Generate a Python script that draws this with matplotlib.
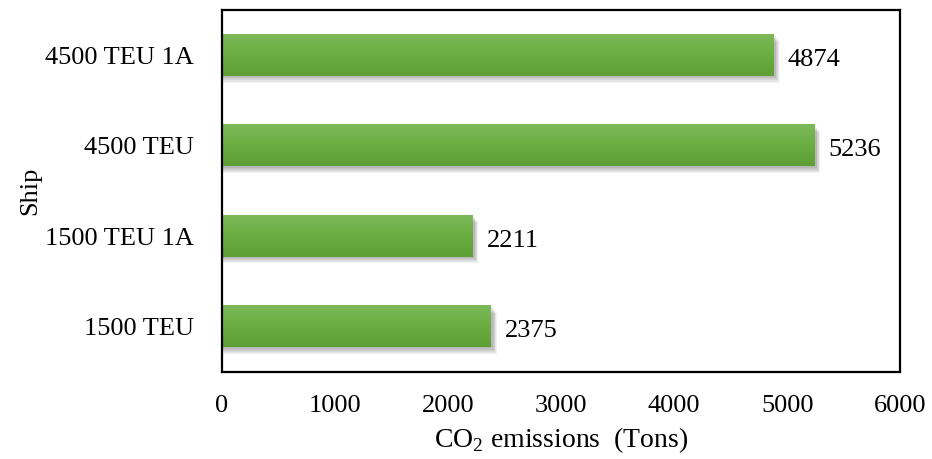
import numpy as np
import matplotlib.pyplot as plt
from matplotlib.colors import LinearSegmentedColormap

ships = ["1500 TEU", "1500 TEU 1A", "4500 TEU", "4500 TEU 1A"]
emissions = [2375, 2211, 5236, 4874]
xticks = [0, 1000, 2000, 3000, 4000, 5000, 6000]

plt.rcParams['font.family'] = ['Liberation Serif', 'DejaVu Serif']
plt.rcParams['mathtext.fontset'] = 'custom'
plt.rcParams['mathtext.rm'] = 'Liberation Serif'

fig = plt.figure(figsize=(9.32, 4.59), dpi=100)
ax = fig.add_axes([0.238, 0.190, 0.728, 0.788])

bar_h = 0.4545
green = LinearSegmentedColormap.from_list("g", ["#5e9e36", "#6aad41", "#7db95a"])
grad = np.linspace(0, 1, 64).reshape(-1, 1)

for i, v in enumerate(emissions):
    # soft shadow under each bar
    for k in range(6):
        off = 0.015 + k * 0.012
        ax.barh(i - off, v + 15 + k * 6, height=bar_h, left=10,
                color="black", alpha=0.05, zorder=1)
    ax.imshow(grad, cmap=green, aspect="auto", origin="lower",
              extent=[0, v, i - bar_h / 2, i + bar_h / 2], zorder=2)
    ax.text(v + 130, i - 0.05, str(v), va="center", ha="left", fontsize=19)

ax.set_xlim(0, 6000)
ax.set_ylim(-0.5, 3.5)
ax.set_yticks(range(len(ships)))
ax.set_yticklabels(ships, fontsize=19)
ax.set_xticks(xticks)
ax.set_xticklabels([str(t) for t in xticks], fontsize=19)
ax.tick_params(axis="both", length=0)
ax.tick_params(axis="x", pad=17)
ax.tick_params(axis="y", pad=20)
for s in ax.spines.values():
    s.set_linewidth(1.6)
    s.set_color("black")

ax.set_xlabel(r"CO$_\mathrm{2}$ emissions  (Tons)", fontsize=20, labelpad=6)
ax.set_ylabel("Ship", fontsize=19, labelpad=3)

fig.savefig("out.png", dpi=100)
